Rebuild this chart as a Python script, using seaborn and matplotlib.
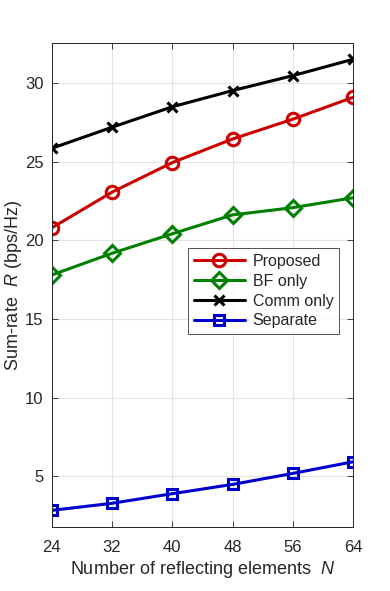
import numpy as np
import pandas as pd
import matplotlib

matplotlib.use("Agg")
import matplotlib.pyplot as plt
import seaborn as sns

# data
n_elements = [24, 32, 40, 48, 56, 64]
proposed = [20.8, 23.07, 24.95, 26.45, 27.71, 29.1]
bf_only = [17.8, 19.18, 20.42, 21.62, 22.08, 22.71]
comm_only = [25.86, 27.2, 28.5, 29.53, 30.48, 31.52]
separate = [2.82, 3.27, 3.88, 4.47, 5.17, 5.91]

series_names = ["Proposed", "BF only", "Comm only", "Separate"]
series_values = [proposed, bf_only, comm_only, separate]
y_ticks = [5, 10, 15, 20, 25, 30]

df = pd.concat(
    [pd.DataFrame({"N": n_elements, "rate": v, "scheme": s})
     for s, v in zip(series_names, series_values)],
    ignore_index=True,
)

sns.set_theme(style="whitegrid")
plt.rcParams["font.family"] = ["Liberation Sans", "DejaVu Sans"]
plt.rcParams["mathtext.fontset"] = "custom"
plt.rcParams["mathtext.it"] = "Liberation Sans:italic"
plt.rcParams["mathtext.rm"] = "Liberation Sans"

colors = {"Proposed": "#CC0000", "BF only": "#008000",
          "Comm only": "#000000", "Separate": "#0000CC"}
markers = {"Proposed": "o", "BF only": "D", "Comm only": "x", "Separate": "s"}
msizes = {"Proposed": 9, "BF only": 8, "Comm only": 7, "Separate": 7.5}

fig = plt.figure(figsize=(3.9, 5.91), dpi=100)
ax = fig.add_axes([0.133, 0.108, 0.772, 0.819])

for s in series_names:
    sub = df[df["scheme"] == s]
    sns.lineplot(
        data=sub, x="N", y="rate", ax=ax, color=colors[s], label=s,
        marker=markers[s], markersize=msizes[s], markerfacecolor="none",
        markeredgecolor=colors[s], markeredgewidth=2.2, linewidth=2.2,
    )

ax.set_xlim(24, 64)
ax.set_ylim(1.75, 32.55)
ax.set_xticks(n_elements)
ax.set_yticks(y_ticks)
ax.tick_params(direction="in", length=4, width=0.6, colors="#262626",
               labelsize=12, top=True, right=True, bottom=True, left=True)
ax.tick_params(axis="x", pad=9)
ax.tick_params(axis="y", pad=6)
ax.grid(True, color="#e3e3e3", linewidth=0.8)
ax.set_facecolor("white")
for sp in ax.spines.values():
    sp.set_color("#262626")
    sp.set_linewidth(0.7)

ax.set_xlabel(r"Number of reflecting elements  $N$", fontsize=13,
              color="#262626", labelpad=3)
ax.set_ylabel(r"Sum-rate  $R$ (bps/Hz)", fontsize=13, color="#262626",
              labelpad=1)

leg = ax.legend(loc="upper left", bbox_to_anchor=(0.452, 0.576), fontsize=11.5,
                frameon=True, fancybox=False, edgecolor="#262626",
                handlelength=3.2, borderpad=0.35, labelspacing=0.3,
                handletextpad=0.5, borderaxespad=0)
leg.get_frame().set_linewidth(0.7)

fig.savefig("out.png", dpi=100)
